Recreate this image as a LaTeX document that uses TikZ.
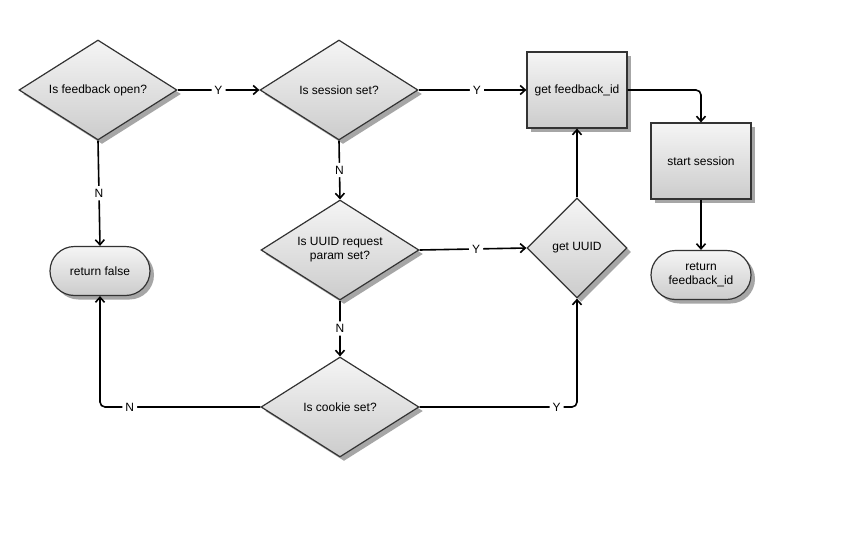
\documentclass[tikz,border=0pt]{standalone}
\usepackage{fontspec}
\setmainfont{Liberation Sans}
\usetikzlibrary{shapes.geometric,shapes.misc,shadows,arrows.meta}
\begin{document}
\begin{tikzpicture}[x=1pt,y=-1pt,
  box/.style={draw=black!80, line width=1.2pt, top color=black!4, bottom color=black!20,
    drop shadow={shadow xshift=4pt, shadow yshift=-4pt, fill=black!35, opacity=1},
    font=\fontsize{12}{14}\selectfont, align=center, inner sep=0pt},
  dia/.style={box, diamond, aspect=1.58, minimum width=158pt, minimum height=100pt},
  rect/.style={box, rectangle, minimum width=100pt, minimum height=76pt},
  term/.style={box, rounded rectangle, minimum width=100pt, minimum height=49pt},
  conn/.style={line width=1.6pt, -{Straight Barb[length=5pt,width=9pt,line width=1.6pt]}, rounded corners=5pt},
  lbl/.style={fill=white, inner sep=3pt, font=\fontsize{12}{14}\selectfont}]
\useasboundingbox (0,0) rectangle (852,557);
\fill[white] (0,0) rectangle (852,557);
\node[dia] (D1) at (98,90) {Is feedback open?};
\node[dia] (D2) at (339,90) {Is session set?};
\node[rect] (R1) at (577,90) {get feedback\_id};
\node[rect] (R2) at (701,161) {start session};
\node[term] (T2) at (701,275) {return\\feedback\_id};
\node[term] (T1) at (100,271) {return false};
\node[dia] (D3) at (340,250) {Is UUID request\\param set?};
\node[dia, minimum width=100pt, aspect=1] (D4) at (577,248) {get UUID};
\node[dia] (D5) at (340,407) {Is cookie set?};

\draw[conn] (D1.east) -- node[lbl]{Y} (D2.west);
\draw[conn] (D2.east) -- node[lbl,pos=0.54]{Y} (R1.west);
\draw[conn] (D1.south) -- node[lbl]{N} (T1.north);
\draw[conn] (D2.south) -- node[lbl]{N} (D3.north);
\draw[conn] (D3.east) -- node[lbl,pos=0.53]{Y} (D4.west);
\draw[conn] (D4.north) -- (R1.south);
\draw[conn] (D3.south) -- node[lbl]{N} (D5.north);
\draw[conn] (D5.west) -- node[lbl,pos=0.815]{N} (T1.south |- D5.west) -- (T1.south);
\draw[conn] (D5.east) -- node[lbl,pos=0.87]{Y} (D4.south |- D5.east) -- (D4.south);
\draw[conn] (R1.east) -- (R2.north |- R1.east) -- (R2.north);
\draw[conn] (R2.south) -- (T2.north);
\end{tikzpicture}
\end{document}
